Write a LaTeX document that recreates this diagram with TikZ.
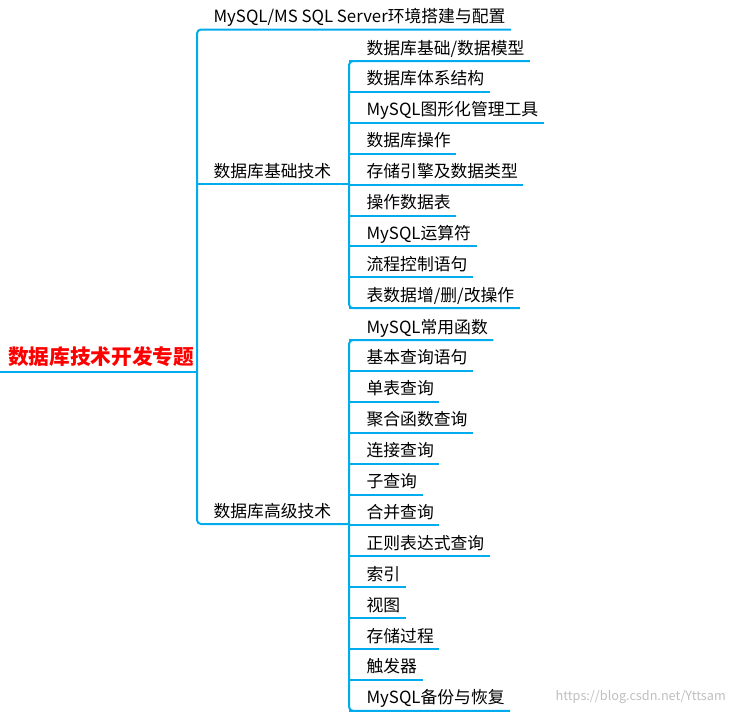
\documentclass[tikz,border=0pt]{standalone}
\usepackage{fontspec}
\setmainfont{Noto Sans CJK SC}
\usetikzlibrary{positioning}

\tikzset{
  branch/.style={draw=cyan!70!blue!90!white, color={rgb,255:red,0;green,172;blue,238}, line width=1.5pt, rounded corners=3pt},
  topic/.style={anchor=base west, inner xsep=4pt, inner ysep=0pt, font=\fontsize{12.6pt}{14pt}\selectfont},
  roottopic/.style={anchor=base west, inner sep=0pt, text=red, font=\fontsize{15.5pt}{17pt}\selectfont\bfseries}
}

\begin{document}
\begin{tikzpicture}[x=0.75pt,y=-0.75pt]
        \useasboundingbox (0,0) rectangle (731,714);
        % root
        \node[roottopic] (root) at (8,364) {数据库技术开发专题};
        \draw[branch] (0,371.5)--(197,371.5);
        % main branches
        \node[topic] (env) at (208,22.5) {MySQL/MS SQL Server环境搭建与配置};
        \node[topic] (basic) at (208,177) {数据库基础技术};
        \node[topic] (adv) at (208,517) {数据库高级技术};
        \draw[branch] (env.east |- 0,29.5)--(197,29.5)--(197,524)--(349,524);
        \draw[branch] (197,184)--(349,184);
        % children of basic
        \foreach \t [count=\i] in {数据库基础/数据模型,数据库体系结构,MySQL图形化管理工具,数据库操作,存储引擎及数据类型,操作数据表,MySQL运算符,流程控制语句,表数据增/删/改操作}{
                \pgfmathsetmacro{\y}{61+30.9*(\i-1)}
                \node[topic] (b\i) at (361,\y-7) {\t};
                \draw[branch] (349,\y)--(b\i.east |- 0,\y);
        }
        \draw[branch] (b1.east |- 0,61)--(349,61)--(349,308.2)--(b9.east |- 0,308.2);
        % children of adv
        \foreach \t [count=\i] in {MySQL常用函数,基本查询语句,单表查询,聚合函数查询,连接查询,子查询,合并查询,正则表达式查询,索引,视图,存储过程,触发器,MySQL备份与恢复}{
                \pgfmathsetmacro{\y}{340+30.9*(\i-1)}
                \node[topic] (a\i) at (361,\y-7) {\t};
                \draw[branch] (349,\y)--(a\i.east |- 0,\y);
        }
        \draw[branch] (a1.east |- 0,340)--(349,340)--(349,710.8)--(a13.east |- 0,710.8);
        % watermark
        \node[anchor=base east, inner sep=0pt, text=black!25, font=\fontsize{9.5pt}{11pt}\selectfont] (mark) at (726,700) {https://blog.csdn.net/Yttsam};
\end{tikzpicture}
\end{document}
